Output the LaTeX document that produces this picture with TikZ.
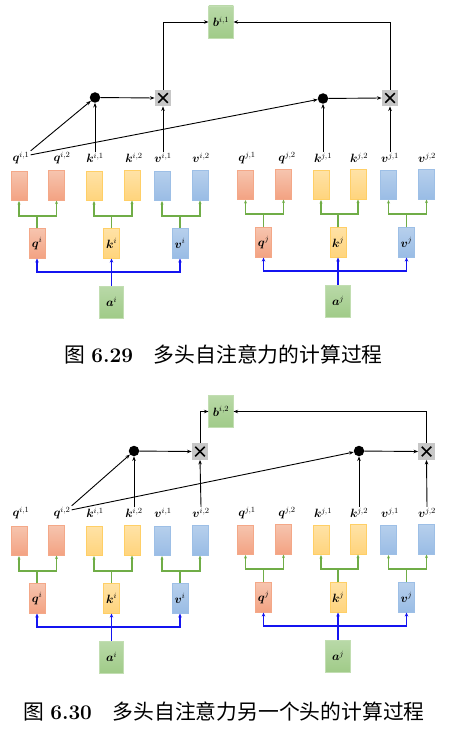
\documentclass[tikz,border=0pt]{standalone}
\usepackage{fontspec}
\usepackage{bm}
\newfontfamily\cjk{Noto Sans CJK SC}
\usetikzlibrary{arrows.meta}
\DeclareMathSizes{12.5}{12.5}{7.8}{6}
\definecolor{qtop}{HTML}{F6C4AE}
\definecolor{qbot}{HTML}{F3A282}
\definecolor{qdraw}{HTML}{F4A888}
\definecolor{ktop}{HTML}{FFE2A6}
\definecolor{kbot}{HTML}{FFD47C}
\definecolor{kdraw}{HTML}{FFCF66}
\definecolor{vtop}{HTML}{B6CFEC}
\definecolor{vbot}{HTML}{99BCE5}
\definecolor{vdraw}{HTML}{9DBFE6}
\definecolor{gtop}{HTML}{B9D9A8}
\definecolor{gbot}{HTML}{A0CB88}
\definecolor{gdraw}{HTML}{C2DEB2}
\definecolor{garrc}{HTML}{70AD47}
\definecolor{barrc}{HTML}{1414F0}
\tikzset{
  x=1pt, y=-1pt,
  lab/.style={inner sep=1pt, font=\fontsize{12.5}{14}\selectfont},
  smallbox/.style={minimum width=16pt, minimum height=29.5pt, inner sep=0pt, line width=0.6pt, font=\fontsize{12.5}{14}\selectfont},
  qbox/.style={smallbox, draw=qdraw, top color=qtop, bottom color=qbot},
  kbox/.style={smallbox, draw=kdraw, top color=ktop, bottom color=kbot},
  vbox/.style={smallbox, draw=vdraw, top color=vtop, bottom color=vbot},
  gbox/.style={minimum width=24.5pt, minimum height=32pt, inner sep=0pt, line width=0.6pt, draw=gdraw, top color=gtop, bottom color=gbot, font=\fontsize{12.5}{14}\selectfont},
  dotnode/.style={circle, fill=black, inner sep=0pt, minimum size=10.5pt},
  crossbox/.style={fill=black!22, inner sep=0pt, minimum size=16.5pt,
    path picture={\draw[line width=1.7pt]
      ([shift={(3.5pt,3.5pt)}]path picture bounding box.south west) --
      ([shift={(-3.5pt,-3.5pt)}]path picture bounding box.north east);
      \draw[line width=1.7pt]
      ([shift={(3.5pt,-3.5pt)}]path picture bounding box.north west) --
      ([shift={(-3.5pt,3.5pt)}]path picture bounding box.south east);}},
  arr/.style={-{Stealth[length=4.5pt,width=3.5pt]}, line width=0.9pt},
  garr/.style={-{Stealth[length=3.5pt,width=3pt]}, line width=1.2pt, draw=garrc},
  barr/.style={-{Stealth[length=4pt,width=3.5pt]}, line width=1.5pt, draw=barrc},
  captxt/.style={inner sep=0pt, font=\fontsize{20.8}{23}\selectfont}
}
\newcommand\headrow[2]{%
  % labels
  \node[lab] (#1lq1) at (21,{158+#2}) {$\bm{q}^{i,1}$};
  \node[lab] (#1lq2) at (62,{158+#2}) {$\bm{q}^{i,2}$};
  \node[lab] (#1lk1) at (95,{158+#2}) {$\bm{k}^{i,1}$};
  \node[lab] (#1lk2) at (134,{158+#2}) {$\bm{k}^{i,2}$};
  \node[lab] (#1lv1) at (163,{158+#2}) {$\bm{v}^{i,1}$};
  \node[lab] (#1lv2) at (201,{158+#2}) {$\bm{v}^{i,2}$};
  \node[lab] (#1ljq1) at (247,{158+#2}) {$\bm{q}^{j,1}$};
  \node[lab] (#1ljq2) at (287,{158+#2}) {$\bm{q}^{j,2}$};
  \node[lab] (#1ljk1) at (323,{158+#2}) {$\bm{k}^{j,1}$};
  \node[lab] (#1ljk2) at (359,{158+#2}) {$\bm{k}^{j,2}$};
  \node[lab] (#1ljv1) at (390,{158+#2}) {$\bm{v}^{j,1}$};
  \node[lab] (#1ljv2) at (427,{158+#2}) {$\bm{v}^{j,2}$};
  % head boxes
  \node[qbox] (#1q1) at (19,{186+#2}) {};
  \node[qbox] (#1q2) at (56.5,{185.5+#2}) {};
  \node[kbox] (#1k1) at (94,{186+#2}) {};
  \node[kbox] (#1k2) at (132,{185.5+#2}) {};
  \node[vbox] (#1v1) at (162,{186+#2}) {};
  \node[vbox] (#1v2) at (200,{185.5+#2}) {};
  \node[qbox] (#1jq1) at (245.5,{185+#2}) {};
  \node[qbox] (#1jq2) at (283.5,{184.5+#2}) {};
  \node[kbox] (#1jk1) at (321,{185+#2}) {};
  \node[kbox] (#1jk2) at (358,{184.5+#2}) {};
  \node[vbox] (#1jv1) at (388.5,{185+#2}) {};
  \node[vbox] (#1jv2) at (426.5,{184.5+#2}) {};
  % middle boxes
  \node[qbox] (#1mq) at (37,{243.5+#2}) {$\bm{q}^{i}$};
  \node[kbox] (#1mk) at (111.5,{243.5+#2}) {$\bm{k}^{i}$};
  \node[vbox] (#1mv) at (180,{243.5+#2}) {$\bm{v}^{i}$};
  \node[qbox] (#1mjq) at (263.5,{242.5+#2}) {$\bm{q}^{j}$};
  \node[kbox] (#1mjk) at (338,{242.5+#2}) {$\bm{k}^{j}$};
  \node[vbox] (#1mjv) at (406.5,{242.5+#2}) {$\bm{v}^{j}$};
  % inputs
  \node[gbox] (#1a) at (111.5,{302+#2}) {$\bm{a}^{i}$};
  \node[gbox] (#1ja) at (338,{301+#2}) {$\bm{a}^{j}$};
  % green splits
  \coordinate (#1gq) at (37,{216+#2});
  \coordinate (#1gk) at (111.5,{216+#2});
  \coordinate (#1gv) at (180,{216+#2});
  \coordinate (#1gjq) at (263.5,{214+#2});
  \coordinate (#1gjk) at (338,{214+#2});
  \coordinate (#1gjv) at (406.5,{214+#2});
  \draw[garr] (#1mq.north) -- (#1gq) -| (#1q1.south);
  \draw[garr] (#1gq) -| (#1q2.south);
  \draw[garr] (#1mk.north) -- (#1gk) -| (#1k1.south);
  \draw[garr] (#1gk) -| (#1k2.south);
  \draw[garr] (#1mv.north) -- (#1gv) -| (#1v1.south);
  \draw[garr] (#1gv) -| (#1v2.south);
  \draw[garr] (#1mjq.north) -- (#1gjq) -| (#1jq1.south);
  \draw[garr] (#1gjq) -| (#1jq2.south);
  \draw[garr] (#1mjk.north) -- (#1gjk) -| (#1jk1.south);
  \draw[garr] (#1gjk) -| (#1jk2.south);
  \draw[garr] (#1mjv.north) -- (#1gjv) -| (#1jv1.south);
  \draw[garr] (#1gjv) -| (#1jv2.south);
  % blue splits
  \coordinate (#1ba) at (111.5,{272+#2});
  \coordinate (#1bja) at (338,{271+#2});
  \draw[barr] (#1a.north) -- (#1ba) -| (#1mq.south);
  \draw[barr] (#1ba) -| (#1mv.south);
  \draw[barr] (#1ba) -- (#1mk.south);
  \draw[barr] (#1ja.north) -- (#1bja) -| (#1mjq.south);
  \draw[barr] (#1bja) -| (#1mjv.south);
  \draw[barr] (#1bja) -- (#1mjk.south);
}
\begin{document}
\begin{tikzpicture}
\useasboundingbox (0,0) rectangle (459,730);
% ---------- figure 6.29 ----------
\headrow{t}{0}
\node[gbox] (tb) at (221,22) {$\bm{b}^{i,1}$};
\node[dotnode] (tdot1) at (95,97.5) {};
\node[crossbox] (tx1) at (163,98) {};
\node[dotnode] (tdot2) at (323,98.5) {};
\node[crossbox] (tx2) at (390,98) {};
\draw[arr] (tlq1.north east) -- (tdot1);
\draw[arr] (tlq1.18) -- (tdot2);
\draw[arr] (tlk1.north) -- (tdot1.south);
\draw[arr] (tlv1.north) -- (tx1.south);
\draw[arr] (tdot1) -- (tx1.west);
\draw[arr] (tx1.north) |- (tb.west);
\draw[arr] (tljk1.north) -- (tdot2.south);
\draw[arr] (tljv1.north) -- (tx2.south);
\draw[arr] (tdot2) -- (tx2.west);
\draw[arr] (tx2.north) |- (tb.east);
\node[captxt] (cap1) at (223.5,355) {{\cjk 图}\hspace{0.3em}\textbf{6.29}\hspace{1em}{\cjk 多头自注意力的计算过程}};
% ---------- figure 6.30 ----------
\headrow{u}{355}
\node[gbox] (ub) at (221,411.5) {$\bm{b}^{i,2}$};
\node[dotnode] (udot1) at (134,451) {};
\node[crossbox] (ux1) at (200,451.5) {};
\node[dotnode] (udot2) at (359,451) {};
\node[crossbox] (ux2) at (426.5,451.5) {};
\draw[arr] (ulq2.north east) -- (udot1);
\draw[arr] (ulq2.18) -- (udot2);
\draw[arr] (ulk2.north) -- (udot1.south);
\draw[arr] (ulv2.north) -- (ux1.south);
\draw[arr] (udot1) -- (ux1.west);
\draw[arr] (ux1.north) |- (ub.west);
\draw[arr] (uljk2.north) -- (udot2.south);
\draw[arr] (uljv2.north) -- (ux2.south);
\draw[arr] (udot2) -- (ux2.west);
\draw[arr] (ux2.north) |- (ub.east);
\node[captxt] (cap2) at (224,712) {{\cjk 图}\hspace{0.3em}\textbf{6.30}\hspace{1em}{\cjk 多头自注意力另一个头的计算过程}};
\end{tikzpicture}
\end{document}
